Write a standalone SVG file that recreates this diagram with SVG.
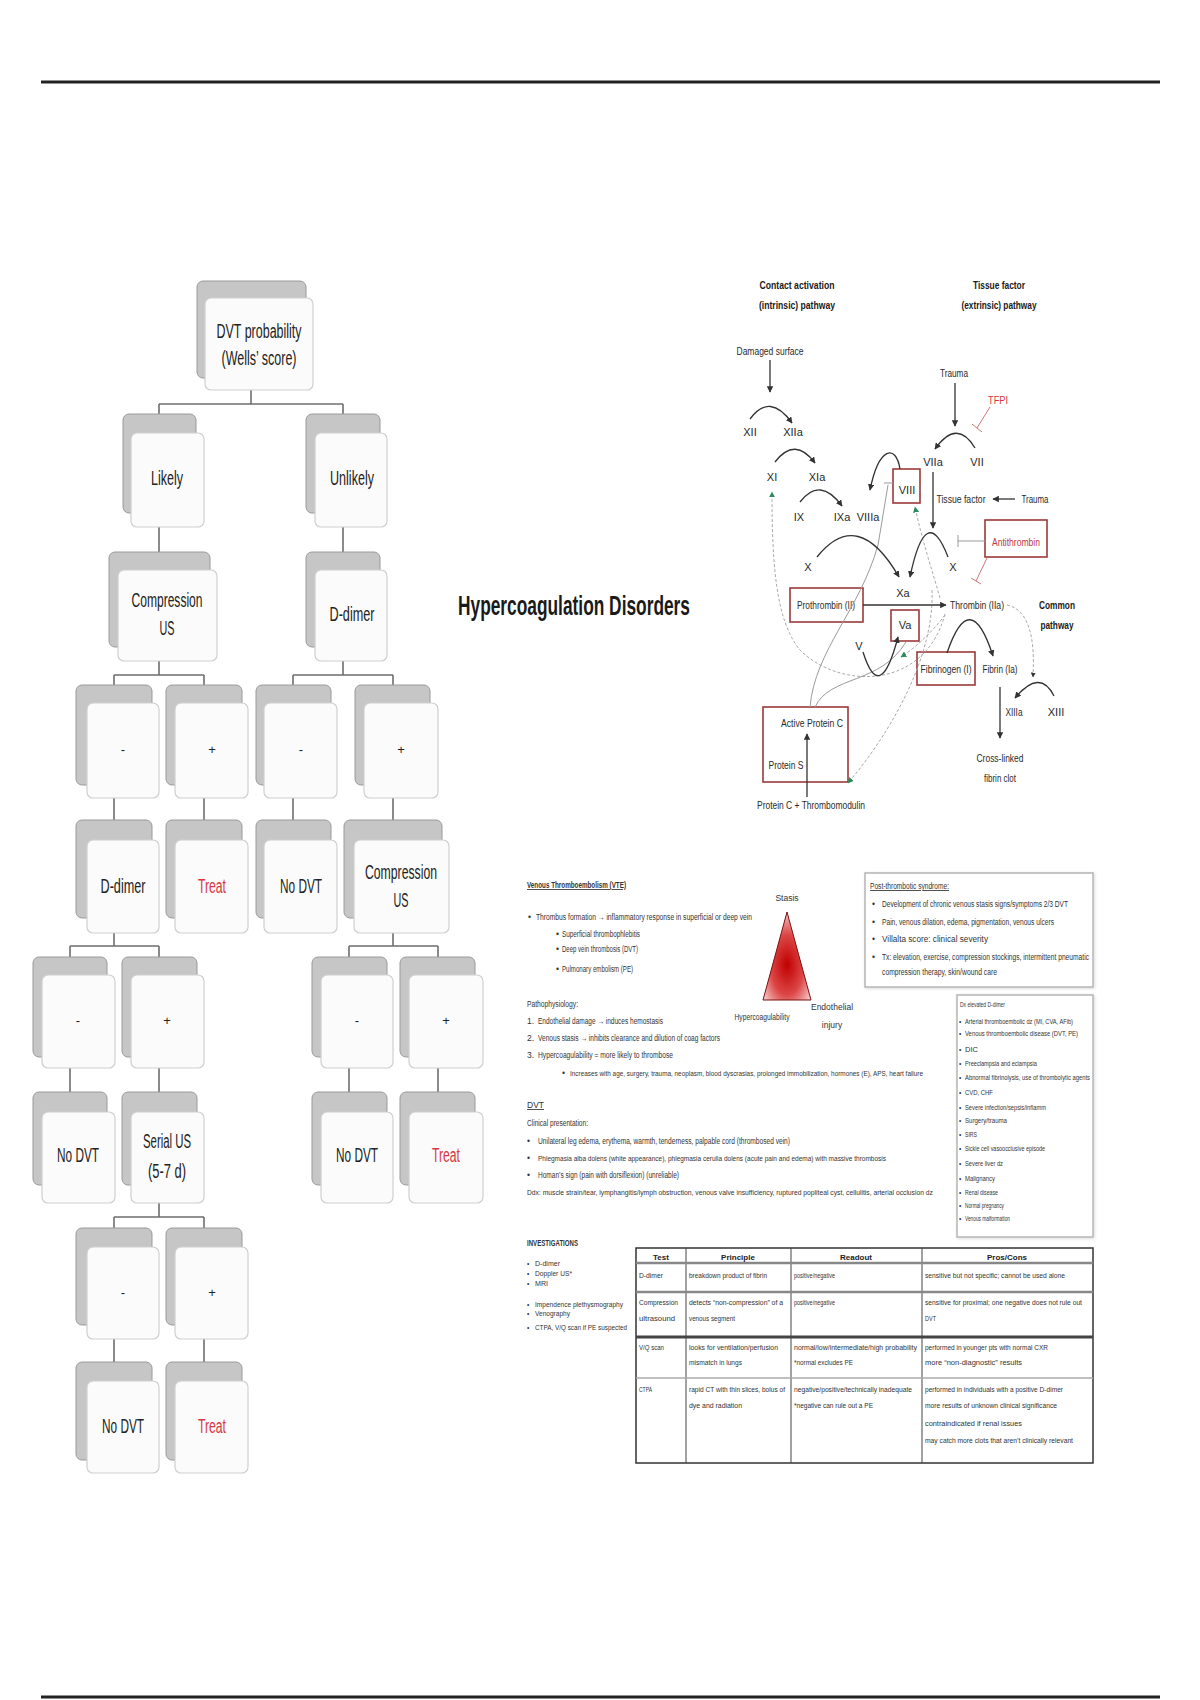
<svg xmlns="http://www.w3.org/2000/svg" width="1200" height="1700" viewBox="0 0 1200 1700">
<defs>
<style>
.bk{fill:#c6c6c6;stroke:#9a9a9a;stroke-width:1}
.fr{fill:#fbfbfb;stroke:#cfcfcf;stroke-width:1.2}
.nt{font-family:"Liberation Sans Narrow","Liberation Sans",sans-serif;font-size:20px;fill:#222;text-anchor:middle}
.red{fill:#d9363e}
.sym{font-family:"Liberation Sans",sans-serif;font-size:13px;fill:#222;text-anchor:middle}
.cn{fill:none;stroke:#6e6e6e;stroke-width:1.6}
.ct{font-family:"Liberation Sans Narrow","Liberation Sans",sans-serif;font-size:11px;fill:#2a2a2a;text-anchor:middle}
.ctb{font-family:"Liberation Sans Narrow","Liberation Sans",sans-serif;font-size:11px;font-weight:bold;fill:#1a1a1a;text-anchor:middle}
.ar{fill:none;stroke:#333;stroke-width:1.3}
.dl{fill:none;stroke:#aaa;stroke-width:1;stroke-dasharray:3 2}
.gl{fill:none;stroke:#9a9a9a;stroke-width:1}
.rb{fill:#fff;stroke:#9b3a3a;stroke-width:1.6}
.st{font-family:"Liberation Sans Narrow","Liberation Sans",sans-serif;font-size:8.5px;fill:#333}
.sm{font-size:7px}
.sd{font-family:"Liberation Sans Narrow","Liberation Sans",sans-serif;font-size:6.5px;fill:#333}
.tb{font-family:"Liberation Sans Narrow","Liberation Sans",sans-serif;font-size:7.5px;fill:#333}
.th{font-family:"Liberation Sans Narrow","Liberation Sans",sans-serif;font-size:8px;font-weight:bold;fill:#222;text-anchor:middle}
.bx{fill:#fff;stroke:#b5b5b5;stroke-width:1.5}
</style>
<marker id="ah" viewBox="0 0 10 10" refX="9" refY="5" markerWidth="5" markerHeight="5" orient="auto"><path d="M0,0 L10,5 L0,10 z" fill="#333"/></marker>
<marker id="gh" viewBox="0 0 10 10" refX="9" refY="5" markerWidth="6" markerHeight="6" orient="auto"><path d="M0,0 L10,5 L0,10 z" fill="#2a8a5a"/></marker>
<radialGradient id="tri" cx="0.5" cy="0.6" r="0.62">
<stop offset="0" stop-color="#c00000"/>
<stop offset="0.55" stop-color="#dc4646"/>
<stop offset="1" stop-color="#f6cccc"/>
</radialGradient>
<filter id="sh" x="-5%" y="-5%" width="110%" height="110%"><feDropShadow dx="1" dy="1" stdDeviation="1.5" flood-color="#000" flood-opacity="0.15"/></filter>
</defs>
<rect width="1200" height="1700" fill="#fff"/>
<line x1="41" y1="82" x2="1160" y2="82" stroke="#222" stroke-width="3"/>
<line x1="41" y1="1697" x2="1160" y2="1697" stroke="#222" stroke-width="3"/>

<!-- connectors of the flowchart -->
<g id="connectors">
<path class="cn" d="M251,390 V404 M159,404 H343 M159,404 V414 M343,404 V414"/>
<path class="cn" d="M159,527 V552 M343,527 V552"/>
<path class="cn" d="M159,661 V675 M114,675 H204 M114,675 V685 M204,675 V685"/>
<path class="cn" d="M343,661 V675 M293,675 H393 M293,675 V685 M393,675 V685"/>
<path class="cn" d="M114,798 V820 M204,798 V820 M293,798 V820 M393,798 V820"/>
<path class="cn" d="M114,933 V946 M70,946 H159 M70,946 V957 M159,946 V957"/>
<path class="cn" d="M393,933 V946 M349,946 H438 M349,946 V957 M438,946 V957"/>
<path class="cn" d="M70,1068 V1092 M159,1068 V1092 M349,1068 V1092 M438,1068 V1092"/>
<path class="cn" d="M159,1203 V1217 M114,1217 H204 M114,1217 V1228 M204,1217 V1228"/>
<path class="cn" d="M114,1339 V1362 M204,1339 V1362"/>
</g>

<g id="n0"><rect class="bk" x="197" y="281" width="109" height="97" rx="6"/><rect class="fr" x="205" y="298" width="108" height="92" rx="6"/>
<text class="nt" x="259" y="338" textLength="85" lengthAdjust="spacingAndGlyphs">DVT probability</text>
<text class="nt" x="259" y="365" textLength="75" lengthAdjust="spacingAndGlyphs">(Wells’ score)</text></g>
<g id="n1"><rect class="bk" x="123" y="414" width="73" height="99" rx="6"/><rect class="fr" x="131" y="433" width="73" height="94" rx="6"/>
<text class="nt" x="167" y="485" textLength="32" lengthAdjust="spacingAndGlyphs">Likely</text></g>
<g id="n2"><rect class="bk" x="306" y="414" width="74" height="99" rx="6"/><rect class="fr" x="315" y="433" width="72" height="94" rx="6"/>
<text class="nt" x="352" y="485" textLength="44" lengthAdjust="spacingAndGlyphs">Unlikely</text></g>
<g id="n3"><rect class="bk" x="109" y="552" width="101" height="95" rx="6"/><rect class="fr" x="118" y="570" width="99" height="91" rx="6"/>
<text class="nt" x="167" y="607" textLength="71" lengthAdjust="spacingAndGlyphs">Compression</text>
<text class="nt" x="167" y="635" textLength="15" lengthAdjust="spacingAndGlyphs">US</text></g>
<g id="n4"><rect class="bk" x="306" y="552" width="74" height="95" rx="6"/><rect class="fr" x="315" y="570" width="72" height="91" rx="6"/>
<text class="nt" x="352" y="621" textLength="45" lengthAdjust="spacingAndGlyphs">D-dimer</text></g>

<g id="n5"><rect class="bk" x="76" y="685" width="76" height="100" rx="6"/><rect class="fr" x="87" y="703" width="72" height="95" rx="6"/><text class="sym" x="123" y="754">-</text></g>
<g id="n6"><rect class="bk" x="166" y="685" width="76" height="100" rx="6"/><rect class="fr" x="175" y="703" width="73" height="95" rx="6"/><text class="sym" x="212" y="754">+</text></g>
<g id="n7"><rect class="bk" x="256" y="685" width="75" height="100" rx="6"/><rect class="fr" x="264" y="703" width="73" height="95" rx="6"/><text class="sym" x="301" y="754">-</text></g>
<g id="n8"><rect class="bk" x="355" y="685" width="75" height="100" rx="6"/><rect class="fr" x="364" y="703" width="74" height="95" rx="6"/><text class="sym" x="401" y="754">+</text></g>

<g id="n9"><rect class="bk" x="76" y="820" width="76" height="98" rx="6"/><rect class="fr" x="87" y="840" width="72" height="93" rx="6"/>
<text class="nt" x="123" y="893" textLength="45" lengthAdjust="spacingAndGlyphs">D-dimer</text></g>
<g id="n10"><rect class="bk" x="166" y="820" width="76" height="98" rx="6"/><rect class="fr" x="175" y="840" width="73" height="93" rx="6"/>
<text class="nt red" x="212" y="893" textLength="28" lengthAdjust="spacingAndGlyphs">Treat</text></g>
<g id="n11"><rect class="bk" x="256" y="820" width="75" height="98" rx="6"/><rect class="fr" x="264" y="840" width="73" height="93" rx="6"/>
<text class="nt" x="301" y="893" textLength="42" lengthAdjust="spacingAndGlyphs">No DVT</text></g>
<g id="n12"><rect class="bk" x="344" y="820" width="98" height="98" rx="6"/><rect class="fr" x="354" y="840" width="95" height="93" rx="6"/>
<text class="nt" x="401" y="879" textLength="72" lengthAdjust="spacingAndGlyphs">Compression</text>
<text class="nt" x="401" y="907" textLength="15" lengthAdjust="spacingAndGlyphs">US</text></g>

<g id="n13"><rect class="bk" x="33" y="957" width="74" height="100" rx="6"/><rect class="fr" x="42" y="975" width="73" height="93" rx="6"/><text class="sym" x="78" y="1025">-</text></g>
<g id="n14"><rect class="bk" x="122" y="957" width="75" height="100" rx="6"/><rect class="fr" x="131" y="975" width="73" height="93" rx="6"/><text class="sym" x="167" y="1025">+</text></g>
<g id="n15"><rect class="bk" x="312" y="957" width="75" height="100" rx="6"/><rect class="fr" x="321" y="975" width="72" height="93" rx="6"/><text class="sym" x="357" y="1025">-</text></g>
<g id="n16"><rect class="bk" x="400" y="957" width="75" height="100" rx="6"/><rect class="fr" x="409" y="975" width="74" height="93" rx="6"/><text class="sym" x="446" y="1025">+</text></g>

<g id="n17"><rect class="bk" x="33" y="1092" width="74" height="93" rx="6"/><rect class="fr" x="42" y="1112" width="73" height="91" rx="6"/>
<text class="nt" x="78" y="1162" textLength="42" lengthAdjust="spacingAndGlyphs">No DVT</text></g>
<g id="n18"><rect class="bk" x="122" y="1092" width="75" height="93" rx="6"/><rect class="fr" x="131" y="1112" width="73" height="91" rx="6"/>
<text class="nt" x="167" y="1148" textLength="48" lengthAdjust="spacingAndGlyphs">Serial US</text>
<text class="nt" x="167" y="1178" textLength="38" lengthAdjust="spacingAndGlyphs">(5-7 d)</text></g>
<g id="n19"><rect class="bk" x="312" y="1092" width="75" height="93" rx="6"/><rect class="fr" x="321" y="1112" width="72" height="91" rx="6"/>
<text class="nt" x="357" y="1162" textLength="42" lengthAdjust="spacingAndGlyphs">No DVT</text></g>
<g id="n20"><rect class="bk" x="400" y="1092" width="75" height="93" rx="6"/><rect class="fr" x="409" y="1112" width="74" height="91" rx="6"/>
<text class="nt red" x="446" y="1162" textLength="28" lengthAdjust="spacingAndGlyphs">Treat</text></g>

<g id="n21"><rect class="bk" x="76" y="1228" width="76" height="97" rx="6"/><rect class="fr" x="87" y="1247" width="72" height="92" rx="6"/><text class="sym" x="123" y="1297">-</text></g>
<g id="n22"><rect class="bk" x="166" y="1228" width="76" height="97" rx="6"/><rect class="fr" x="175" y="1247" width="73" height="92" rx="6"/><text class="sym" x="212" y="1297">+</text></g>
<g id="n23"><rect class="bk" x="76" y="1362" width="76" height="98" rx="6"/><rect class="fr" x="87" y="1381" width="72" height="92" rx="6"/>
<text class="nt" x="123" y="1433" textLength="42" lengthAdjust="spacingAndGlyphs">No DVT</text></g>
<g id="n24"><rect class="bk" x="166" y="1362" width="76" height="98" rx="6"/><rect class="fr" x="175" y="1381" width="73" height="92" rx="6"/>
<text class="nt red" x="212" y="1433" textLength="28" lengthAdjust="spacingAndGlyphs">Treat</text></g>

<!-- title -->
<text x="458" y="615" font-family="'Liberation Sans Narrow','Liberation Sans',sans-serif" font-size="27" font-weight="bold" fill="#1a1a1a" textLength="232" lengthAdjust="spacingAndGlyphs">Hypercoagulation Disorders</text>

<!-- coagulation cascade -->
<g id="cascade">
<text class="ctb" x="797" y="289" textLength="75" lengthAdjust="spacingAndGlyphs">Contact activation</text>
<text class="ctb" x="797" y="309" textLength="76" lengthAdjust="spacingAndGlyphs">(intrinsic) pathway</text>
<text class="ctb" x="999" y="289" textLength="52" lengthAdjust="spacingAndGlyphs">Tissue factor</text>
<text class="ctb" x="999" y="309" textLength="75" lengthAdjust="spacingAndGlyphs">(extrinsic) pathway</text>
<text class="ct" x="770" y="355" textLength="67" lengthAdjust="spacingAndGlyphs">Damaged surface</text>
<text class="ct" x="954" y="377" textLength="28" lengthAdjust="spacingAndGlyphs">Trauma</text>
<text class="ct" x="998" y="404" style="fill:#d9363e" textLength="20" lengthAdjust="spacingAndGlyphs">TFPI</text>
<text class="ct" x="750" y="436">XII</text>
<text class="ct" x="793" y="436">XIIa</text>
<text class="ct" x="772" y="481">XI</text>
<text class="ct" x="817" y="481">XIa</text>
<text class="ct" x="799" y="521">IX</text>
<text class="ct" x="842" y="521">IXa</text>
<text class="ct" x="868" y="521">VIIIa</text>
<text class="ct" x="933" y="466">VIIa</text>
<text class="ct" x="977" y="466">VII</text>
<text class="ct" x="961" y="503" textLength="49" lengthAdjust="spacingAndGlyphs">Tissue factor</text>
<text class="ct" x="1035" y="503" textLength="27" lengthAdjust="spacingAndGlyphs">Trauma</text>
<rect class="rb" x="893" y="469" width="27" height="34"/>
<text class="ct" x="907" y="494">VIII</text>
<rect class="rb" x="985" y="520" width="62" height="37"/>
<text class="ct" x="1016" y="546" style="fill:#c0393f" textLength="48" lengthAdjust="spacingAndGlyphs">Antithrombin</text>
<text class="ct" x="808" y="571">X</text>
<text class="ct" x="953" y="571">X</text>
<text class="ct" x="903" y="597">Xa</text>
<rect class="rb" x="790" y="588" width="73" height="34"/>
<text class="ct" x="826" y="609" textLength="58" lengthAdjust="spacingAndGlyphs">Prothrombin (II)</text>
<text class="ct" x="977" y="609" textLength="54" lengthAdjust="spacingAndGlyphs">Thrombin (IIa)</text>
<text class="ctb" x="1057" y="609" textLength="36" lengthAdjust="spacingAndGlyphs">Common</text>
<text class="ctb" x="1057" y="629" textLength="33" lengthAdjust="spacingAndGlyphs">pathway</text>
<rect class="rb" x="891" y="610" width="28" height="31"/>
<text class="ct" x="905" y="629">Va</text>
<text class="ct" x="859" y="650">V</text>
<rect class="rb" x="917" y="652" width="58" height="33"/>
<text class="ct" x="946" y="673" textLength="51" lengthAdjust="spacingAndGlyphs">Fibrinogen (I)</text>
<text class="ct" x="1000" y="673" textLength="35" lengthAdjust="spacingAndGlyphs">Fibrin (Ia)</text>
<text class="ct" x="1014" y="716" textLength="17" lengthAdjust="spacingAndGlyphs">XIIIa</text>
<text class="ct" x="1056" y="716">XIII</text>
<text class="ct" x="1000" y="762" textLength="47" lengthAdjust="spacingAndGlyphs">Cross-linked</text>
<text class="ct" x="1000" y="782" textLength="32" lengthAdjust="spacingAndGlyphs">fibrin clot</text>
<rect x="763" y="707" width="85" height="75" fill="#fff" stroke="#9b3a3a" stroke-width="1.6"/>
<text class="ct" x="812" y="727" textLength="62" lengthAdjust="spacingAndGlyphs">Active Protein C</text>
<text class="ct" x="786" y="769" textLength="35" lengthAdjust="spacingAndGlyphs">Protein S</text>
<text class="ct" x="811" y="809" textLength="108" lengthAdjust="spacingAndGlyphs">Protein C + Thrombomodulin</text>

<!-- dotted feedback lines -->
<path class="dl" d="M945,614 C925,690 840,690 800,650 C775,620 772,560 772,492" marker-end="url(#gh)"/>
<path class="dl" d="M940,598 C932,570 922,540 915,507" marker-end="url(#gh)"/>
<path class="dl" d="M932,590 C935,660 885,740 848,783" marker-end="url(#gh)"/>
<path class="dl" d="M945,615 C930,635 912,650 901,657" marker-end="url(#gh)"/>
<path class="dl" d="M1007,605 C1030,610 1035,640 1033,677" marker-end="url(#ah)"/>
<!-- APC inhibitions -->
<path class="gl" d="M810,707 C815,650 860,610 878,545 L888,485"/>
<path class="gl" d="M884,483 H893"/>
<path class="gl" d="M815,707 C830,675 880,685 906,642"/>

<!-- solid arrows -->
<path class="ar" d="M770,360 V392" marker-end="url(#ah)"/>
<path class="ar" d="M750,419 Q770,392 792,423" marker-end="url(#ah)"/>
<path class="ar" d="M775,462 Q795,436 815,463" marker-end="url(#ah)"/>
<path class="ar" d="M800,502 Q820,476 842,506" marker-end="url(#ah)"/>
<path class="ar" d="M900,469 C896,444 879,446 870,490" marker-end="url(#ah)"/>
<path class="ar" d="M955,383 V426" marker-end="url(#ah)"/>
<path d="M990,407 L977,428 M972,424 L982,432" fill="none" stroke="#c77" stroke-width="1"/>
<path class="ar" d="M975,448 Q957,418 935,449" marker-end="url(#ah)"/>
<path class="ar" d="M933,472 V528" marker-end="url(#ah)"/>
<path class="ar" d="M1015,499 H993" marker-end="url(#ah)"/>
<path d="M985,541 H958 M958,535 V547" fill="none" stroke="#999" stroke-width="1"/>
<path d="M987,558 L976,581 M971,578 L981,584" fill="none" stroke="#c77" stroke-width="1"/>
<path class="ar" d="M817,557 Q858,506 899,577" marker-end="url(#ah)"/>
<path class="ar" d="M948,557 Q926,500 910,577" marker-end="url(#ah)"/>
<path class="ar" d="M863,605 H946" marker-end="url(#ah)"/>
<path class="ar" d="M863,652 Q880,706 898,637" marker-end="url(#ah)"/>
<path class="ar" d="M947,653 Q970,585 993,656" marker-end="url(#ah)"/>
<path class="ar" d="M1000,687 V738" marker-end="url(#ah)"/>
<path class="ar" d="M1054,696 Q1040,668 1015,698" marker-end="url(#ah)"/>
<path class="ar" d="M807,797 V734" marker-end="url(#ah)"/>
</g>

<!-- VTE section -->
<g id="vte">
<text class="st" x="527" y="888" font-weight="bold" text-decoration="underline" textLength="99" lengthAdjust="spacingAndGlyphs">Venous Thromboembolism (VTE)</text>
<text class="st" x="528" y="920">•</text>
<text class="st" x="536" y="920" textLength="216" lengthAdjust="spacingAndGlyphs">Thrombus formation → inflammatory response in superficial or deep vein</text>
<text class="st" x="556" y="937">•</text>
<text class="st" x="562" y="937" textLength="78" lengthAdjust="spacingAndGlyphs">Superficial thrombophlebitis</text>
<text class="st" x="556" y="952">•</text>
<text class="st" x="562" y="952" textLength="76" lengthAdjust="spacingAndGlyphs">Deep vein thrombosis (DVT)</text>
<text class="st" x="556" y="972">•</text>
<text class="st" x="562" y="972" textLength="71" lengthAdjust="spacingAndGlyphs">Pulmonary embolism (PE)</text>
<text class="st" x="527" y="1007" textLength="51" lengthAdjust="spacingAndGlyphs">Pathophysiology:</text>
<text class="st" x="527" y="1024">1.</text>
<text class="st" x="538" y="1024" textLength="125" lengthAdjust="spacingAndGlyphs">Endothelial damage → induces hemostasis</text>
<text class="st" x="527" y="1041">2.</text>
<text class="st" x="538" y="1041" textLength="182" lengthAdjust="spacingAndGlyphs">Venous stasis → inhibits clearance and dilution of coag factors</text>
<text class="st" x="527" y="1058">3.</text>
<text class="st" x="538" y="1058" textLength="135" lengthAdjust="spacingAndGlyphs">Hypercoagulability = more likely to thrombose</text>
<text class="st" x="562" y="1076">•</text>
<text class="st sm" x="570" y="1076" textLength="353" lengthAdjust="spacingAndGlyphs">Increases with age, surgery, trauma, neoplasm, blood dyscrasias, prolonged immobilization, hormones (E), APS, heart failure</text>

<polygon points="787,912 763,1000 811,1000" fill="url(#tri)" stroke="#7a1010" stroke-width="1"/>
<text class="st" x="787" y="901" text-anchor="middle">Stasis</text>
<text class="st" x="762" y="1020" text-anchor="middle" textLength="55" lengthAdjust="spacingAndGlyphs">Hypercoagulability</text>
<text class="st" x="832" y="1010" text-anchor="middle">Endothelial</text>
<text class="st" x="832" y="1028" text-anchor="middle">injury</text>
</g>

<g id="pts">
<rect class="bx" x="865" y="873" width="228" height="114" filter="url(#sh)"/>
<text class="st" x="870" y="889" text-decoration="underline" textLength="79" lengthAdjust="spacingAndGlyphs">Post-thrombotic syndrome:</text>
<text class="st" x="872" y="907">•</text>
<text class="st" x="882" y="907" textLength="186" lengthAdjust="spacingAndGlyphs">Development of chronic venous stasis signs/symptoms 2/3 DVT</text>
<text class="st" x="872" y="925">•</text>
<text class="st" x="882" y="925" textLength="172" lengthAdjust="spacingAndGlyphs">Pain, venous dilation, edema, pigmentation, venous ulcers</text>
<text class="st" x="872" y="942">•</text>
<text class="st" x="882" y="942" textLength="106" lengthAdjust="spacingAndGlyphs">Villalta score: clinical severity</text>
<text class="st" x="872" y="960">•</text>
<text class="st" x="882" y="960" textLength="207" lengthAdjust="spacingAndGlyphs">Tx: elevation, exercise, compression stockings, intermittent pneumatic</text>
<text class="st" x="882" y="975" textLength="115" lengthAdjust="spacingAndGlyphs">compression therapy, skin/wound care</text>
</g>

<g id="ddimer">
<rect class="bx" x="957" y="995" width="136" height="242" filter="url(#sh)"/>
<text class="sd" x="960" y="1007" textLength="45" lengthAdjust="spacingAndGlyphs">Dx elevated D-dimer</text>
<g class="sd">
<text x="959" y="1024">•</text><text x="965" y="1024" textLength="108" lengthAdjust="spacingAndGlyphs">Arterial thromboembolic dz (MI, CVA, AFib)</text>
<text x="959" y="1036">•</text><text x="965" y="1036" textLength="113" lengthAdjust="spacingAndGlyphs">Venous thromboembolic disease (DVT, PE)</text>
<text x="959" y="1052">•</text><text x="965" y="1052" textLength="13" lengthAdjust="spacingAndGlyphs">DIC</text>
<text x="959" y="1066">•</text><text x="965" y="1066" textLength="72" lengthAdjust="spacingAndGlyphs">Preeclampsia and eclampsia</text>
<text x="959" y="1080">•</text><text x="965" y="1080" textLength="125" lengthAdjust="spacingAndGlyphs">Abnormal fibrinolysis, use of thrombolytic agents</text>
<text x="959" y="1095">•</text><text x="965" y="1095" textLength="28" lengthAdjust="spacingAndGlyphs">CVD, CHF</text>
<text x="959" y="1110">•</text><text x="965" y="1110" textLength="81" lengthAdjust="spacingAndGlyphs">Severe infection/sepsis/inflamm</text>
<text x="959" y="1123">•</text><text x="965" y="1123" textLength="42" lengthAdjust="spacingAndGlyphs">Surgery/trauma</text>
<text x="959" y="1137">•</text><text x="965" y="1137" textLength="12" lengthAdjust="spacingAndGlyphs">SIRS</text>
<text x="959" y="1151">•</text><text x="965" y="1151" textLength="80" lengthAdjust="spacingAndGlyphs">Sickle cell vasoocclusive episode</text>
<text x="959" y="1166">•</text><text x="965" y="1166" textLength="38" lengthAdjust="spacingAndGlyphs">Severe liver dz</text>
<text x="959" y="1181">•</text><text x="965" y="1181" textLength="30" lengthAdjust="spacingAndGlyphs">Malignancy</text>
<text x="959" y="1195">•</text><text x="965" y="1195" textLength="33" lengthAdjust="spacingAndGlyphs">Renal disease</text>
<text x="959" y="1208">•</text><text x="965" y="1208" textLength="39" lengthAdjust="spacingAndGlyphs">Normal pregnancy</text>
<text x="959" y="1221">•</text><text x="965" y="1221" textLength="45" lengthAdjust="spacingAndGlyphs">Venous malformation</text>
</g>
</g>

<g id="dvt">
<text class="st" x="527" y="1108" text-decoration="underline">DVT</text>
<text class="st" x="527" y="1126" textLength="61" lengthAdjust="spacingAndGlyphs">Clinical presentation:</text>
<text class="st" x="527" y="1144">•</text>
<text class="st" x="538" y="1144" textLength="252" lengthAdjust="spacingAndGlyphs">Unilateral leg edema, erythema, warmth, tenderness, palpable cord (thrombosed vein)</text>
<text class="st" x="527" y="1161">•</text>
<text class="st sm" x="538" y="1161" textLength="348" lengthAdjust="spacingAndGlyphs">Phlegmasia alba dolens (white appearance), phlegmasia cerulia dolens (acute pain and edema) with massive thrombosis</text>
<text class="st" x="527" y="1178">•</text>
<text class="st" x="538" y="1178" textLength="141" lengthAdjust="spacingAndGlyphs">Homan’s sign (pain with dorsiflexion) (unreliable)</text>
<text class="st sm" x="527" y="1195" textLength="406" lengthAdjust="spacingAndGlyphs">Ddx: muscle strain/tear, lymphangitis/lymph obstruction, venous valve insufficiency, ruptured popliteal cyst, cellulitis, arterial occlusion dz</text>
</g>

<g id="investigations">
<text class="st" x="527" y="1246" font-weight="bold" textLength="51" lengthAdjust="spacingAndGlyphs">INVESTIGATIONS</text>
<g class="sd">
<text x="527" y="1266">•</text><text x="535" y="1266" textLength="25" lengthAdjust="spacingAndGlyphs">D-dimer</text>
<text x="527" y="1276">•</text><text x="535" y="1276" textLength="37" lengthAdjust="spacingAndGlyphs">Doppler US*</text>
<text x="527" y="1286">•</text><text x="535" y="1286" textLength="13" lengthAdjust="spacingAndGlyphs">MRI</text>
<text x="527" y="1307">•</text><text x="535" y="1307" textLength="88" lengthAdjust="spacingAndGlyphs">Impendence plethysmography</text>
<text x="527" y="1316">•</text><text x="535" y="1316" textLength="35" lengthAdjust="spacingAndGlyphs">Venography</text>
<text x="527" y="1330">•</text><text x="535" y="1330" textLength="92" lengthAdjust="spacingAndGlyphs">CTPA, V/Q scan if PE suspected</text>
</g>
</g>

<g id="table">
<rect x="636" y="1248" width="457" height="215" fill="#fff" stroke="#333" stroke-width="1.5"/>
<path d="M686,1248 V1463 M791,1248 V1463 M922,1248 V1463" stroke="#444" stroke-width="1"/>
<path d="M636,1263 H1093 M636,1292 H1093" stroke="#888" stroke-width="2.5"/>
<path d="M636,1337 H1093" stroke="#444" stroke-width="3"/>
<path d="M636,1378 H1093" stroke="#aaa" stroke-width="1.5"/>
<text class="th" x="661" y="1260">Test</text>
<text class="th" x="738" y="1260">Principle</text>
<text class="th" x="856" y="1260">Readout</text>
<text class="th" x="1007" y="1260">Pros/Cons</text>
<g class="tb">
<text x="639" y="1278" textLength="24" lengthAdjust="spacingAndGlyphs">D-dimer</text>
<text x="689" y="1278" textLength="78" lengthAdjust="spacingAndGlyphs">breakdown product of fibrin</text>
<text x="794" y="1278" textLength="41" lengthAdjust="spacingAndGlyphs">positive/negative</text>
<text x="925" y="1278" textLength="140" lengthAdjust="spacingAndGlyphs">sensitive but not specific; cannot be used alone</text>
<text x="639" y="1305" textLength="39" lengthAdjust="spacingAndGlyphs">Compression</text>
<text x="639" y="1321" textLength="36" lengthAdjust="spacingAndGlyphs">ultrasound</text>
<text x="689" y="1305" textLength="94" lengthAdjust="spacingAndGlyphs">detects “non-compression” of a</text>
<text x="689" y="1321" textLength="46" lengthAdjust="spacingAndGlyphs">venous segment</text>
<text x="794" y="1305" textLength="41" lengthAdjust="spacingAndGlyphs">positive/negative</text>
<text x="925" y="1305" textLength="157" lengthAdjust="spacingAndGlyphs">sensitive for proximal; one negative does not rule out</text>
<text x="925" y="1321" textLength="11" lengthAdjust="spacingAndGlyphs">DVT</text>
<text x="639" y="1350" textLength="25" lengthAdjust="spacingAndGlyphs">V/Q scan</text>
<text x="689" y="1350" textLength="89" lengthAdjust="spacingAndGlyphs">looks for ventilation/perfusion</text>
<text x="689" y="1365" textLength="53" lengthAdjust="spacingAndGlyphs">mismatch in lungs</text>
<text x="794" y="1350" textLength="123" lengthAdjust="spacingAndGlyphs">normal/low/intermediate/high probability</text>
<text x="794" y="1365" textLength="59" lengthAdjust="spacingAndGlyphs">*normal excludes PE</text>
<text x="925" y="1350" textLength="123" lengthAdjust="spacingAndGlyphs">performed in younger pts with normal CXR</text>
<text x="925" y="1365" textLength="97" lengthAdjust="spacingAndGlyphs">more “non-diagnostic” results</text>
<text x="639" y="1392" textLength="13" lengthAdjust="spacingAndGlyphs">CTPA</text>
<text x="689" y="1392" textLength="96" lengthAdjust="spacingAndGlyphs">rapid CT with thin slices, bolus of</text>
<text x="689" y="1408" textLength="53" lengthAdjust="spacingAndGlyphs">dye and radiation</text>
<text x="794" y="1392" textLength="118" lengthAdjust="spacingAndGlyphs">negative/positive/technically inadequate</text>
<text x="794" y="1408" textLength="79" lengthAdjust="spacingAndGlyphs">*negative can rule out a PE</text>
<text x="925" y="1392" textLength="138" lengthAdjust="spacingAndGlyphs">performed in individuals with a positive D-dimer</text>
<text x="925" y="1408" textLength="132" lengthAdjust="spacingAndGlyphs">more results of unknown clinical significance</text>
<text x="925" y="1426" textLength="97" lengthAdjust="spacingAndGlyphs">contraindicated if renal issues</text>
<text x="925" y="1443" textLength="148" lengthAdjust="spacingAndGlyphs">may catch more clots that aren’t clinically relevant</text>
</g>
</g>
</svg>
